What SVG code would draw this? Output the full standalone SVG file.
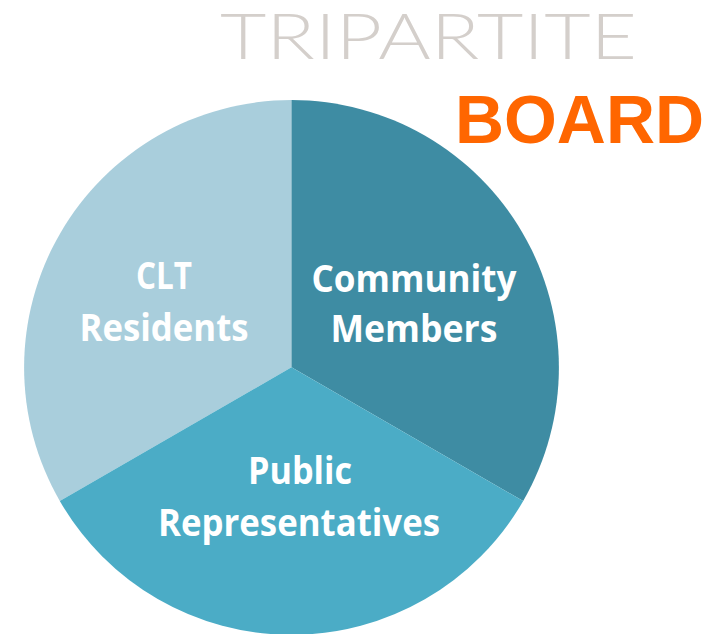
<svg xmlns="http://www.w3.org/2000/svg" width="716" height="634" viewBox="0 0 716 634">
<style>
.lbl{font-family:"Open Sans","Liberation Sans",sans-serif;font-weight:bold;font-size:38px;fill:#ffffff;text-anchor:middle}
</style>
<rect width="716" height="634" fill="#ffffff"/>
<text id="title" x="220" y="59" textLength="417" lengthAdjust="spacingAndGlyphs" font-family="Lato,'Open Sans',sans-serif" font-weight="300" font-size="63" fill="#D4CFCB">TRIPARTITE</text>
<text id="board" x="455" y="143" textLength="249" lengthAdjust="spacingAndGlyphs" font-family="'Liberation Sans',Arial,sans-serif" font-weight="bold" font-size="69" fill="#FF6600">BOARD</text>
<g id="slice-clt">
<path d="M291.5,367.3 L291.5,100 A267.5,267.5 0 0 0 59.8,501 Z" fill="#A9CEDC"/>
<text class="lbl" x="164" y="289" textLength="56" lengthAdjust="spacingAndGlyphs">CLT</text>
<text class="lbl" x="164" y="341" textLength="169" lengthAdjust="spacingAndGlyphs">Residents</text>
</g>
<g id="slice-community">
<path d="M291.5,367.3 L291.5,100 A267.5,267.5 0 0 1 523.2,501 Z" fill="#3E8CA3"/>
<text class="lbl" x="414" y="292" textLength="205" lengthAdjust="spacingAndGlyphs">Community</text>
<text class="lbl" x="414" y="342" textLength="167" lengthAdjust="spacingAndGlyphs">Members</text>
</g>
<g id="slice-public">
<path d="M291.5,367.3 L59.8,501 A267.5,267.5 0 0 0 523.2,501 Z" fill="#4BACC6"/>
<text class="lbl" x="300" y="484" textLength="104" lengthAdjust="spacingAndGlyphs">Public</text>
<text class="lbl" x="299" y="536" textLength="282" lengthAdjust="spacingAndGlyphs">Representatives</text>
</g>
<g id="connectors"></g>
</svg>
